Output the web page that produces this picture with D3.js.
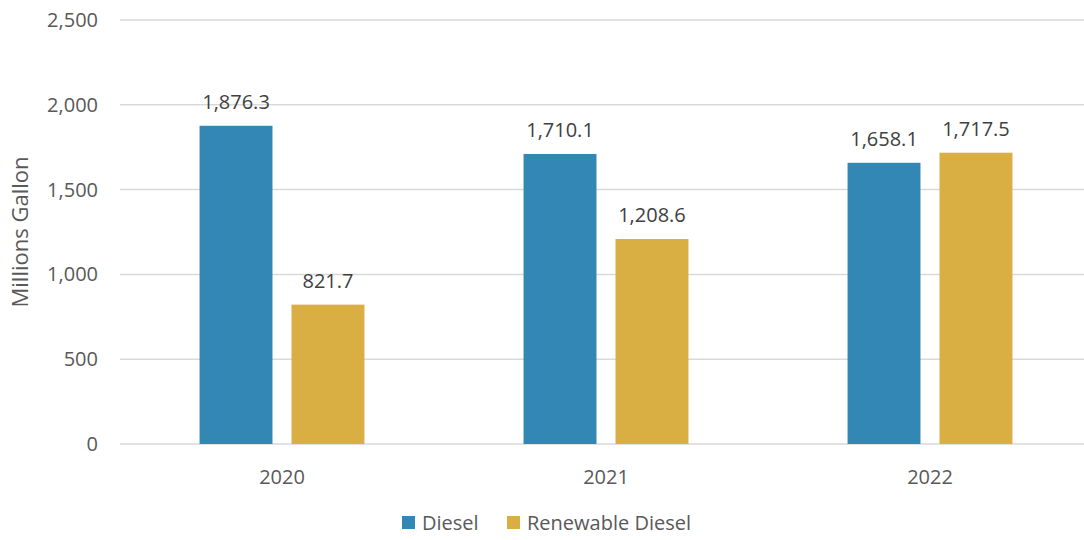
<!DOCTYPE html>
<html>
<head>
<meta charset="utf-8">
<script src="https://cdn.jsdelivr.net/npm/d3@7"></script>
<style>
  body { margin: 0; background: #fff; }
  text { font-family: "Open Sans", sans-serif; }
</style>
</head>
<body>
<div id="viz"></div>
<script>
const years = ["2020", "2021", "2022"];
const series = ["Diesel", "Renewable Diesel"];
const diesel = [1876.3, 1710.1, 1658.1];
const renewable = [821.7, 1208.6, 1717.5];
const yTicks = [0, 500, 1000, 1500, 2000, 2500];
const colors = ["#3387b4", "#d9ae43"];

const width = 1084;
const height = 540;
const margin = { top: 20, right: 0, bottom: 96, left: 120 };

const svg = d3.select('#viz').append('svg')
    .attr('width', width)
    .attr('height', height);

const x = d3.scaleBand()
    .domain(years)
    .range([margin.left, 1092])
    .paddingInner(0)
    .paddingOuter(0);

const xSeries = d3.scaleBand()
    .domain(series)
    .range([0, x.bandwidth()])
    .paddingInner(0.207)
    .paddingOuter(0.865);

const y = d3.scaleLinear()
    .domain([0, 2500])
    .range([height - margin.bottom, margin.top]);

// gridlines
svg.append('g')
    .selectAll('line')
    .data(yTicks)
    .enter()
    .append('line')
    .attr('x1', margin.left)
    .attr('x2', width)
    .attr('y1', d => y(d))
    .attr('y2', d => y(d))
    .attr('stroke', '#d9d9d9')
    .attr('stroke-width', 1.5);

// y tick labels
svg.append('g')
    .selectAll('text')
    .data(yTicks)
    .enter()
    .append('text')
    .attr('x', 98)
    .attr('y', d => y(d))
    .attr('dy', '0.35em')
    .attr('text-anchor', 'end')
    .attr('fill', '#595959')
    .style('font-size', '20px')
    .text(d => d3.format(',')(d));

svg.append('text')
    .attr('transform', `translate(28, ${y(1250)}) rotate(-90)`)
    .attr('text-anchor', 'middle')
    .attr('fill', '#595959')
    .style('font-size', '22px')
    .text('Millions Gallon');

// x tick labels
svg.append('g')
    .selectAll('text')
    .data(years)
    .enter()
    .append('text')
    .attr('x', d => x(d) + x.bandwidth() / 2)
    .attr('y', 484)
    .attr('text-anchor', 'middle')
    .attr('fill', '#595959')
    .style('font-size', '20px')
    .text(d => d);

const rows = years.map((yr, i) => ({ year: yr, values: [diesel[i], renewable[i]] }));

const groups = svg.append('g')
    .selectAll('g')
    .data(rows)
    .enter()
    .append('g')
    .attr('transform', d => `translate(${x(d.year)},0)`);

const cells = groups.selectAll('g')
    .data(d => d.values.map((v, j) => ({ key: series[j], value: v, idx: j })))
    .enter()
    .append('g');

cells.append('rect')
    .attr('x', d => xSeries(d.key))
    .attr('width', xSeries.bandwidth())
    .attr('y', d => y(d.value))
    .attr('height', d => y(0) - y(d.value))
    .attr('fill', d => colors[d.idx]);

cells.append('text')
    .attr('x', d => xSeries(d.key) + xSeries.bandwidth() / 2)
    .attr('y', d => y(d.value) - 17)
    .attr('text-anchor', 'middle')
    .attr('fill', '#404040')
    .style('font-size', '20px')
    .text(d => d3.format(',.1f')(d.value));

// legend
const legendX = [402, 507];
const legend = svg.append('g')
    .selectAll('g')
    .data(series)
    .enter()
    .append('g')
    .attr('transform', (d, i) => `translate(${legendX[i]},516)`);

legend.append('rect')
    .attr('width', 13)
    .attr('height', 13)
    .attr('fill', (d, i) => colors[i]);

legend.append('text')
    .attr('x', 20)
    .attr('y', 7)
    .attr('dy', '0.35em')
    .attr('fill', '#595959')
    .style('font-size', '20px')
    .text(d => d);
</script>
</body>
</html>
